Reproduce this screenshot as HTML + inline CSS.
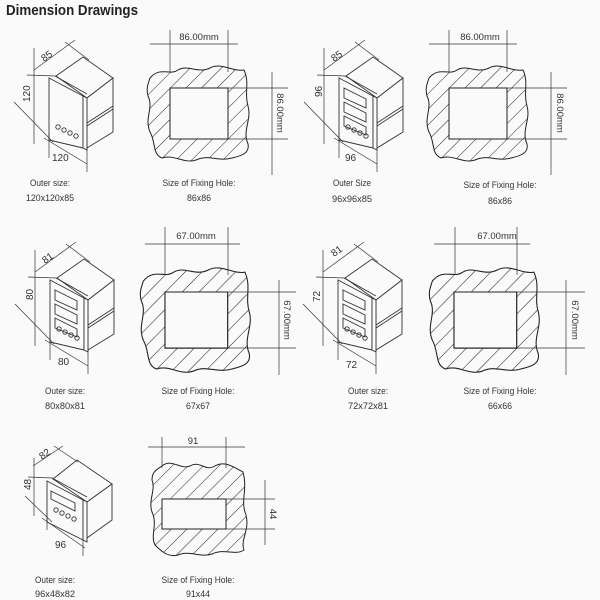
<!DOCTYPE html>
<html><head><meta charset="utf-8"><style>
html,body{margin:0;padding:0;background:#fafafa;}
svg{display:block;}
text{font-family:"Liberation Sans",sans-serif;fill:#333;}
</style></head><body>
<svg width="600" height="600" viewBox="0 0 600 600" xmlns="http://www.w3.org/2000/svg">
<defs>
<pattern id="h" patternUnits="userSpaceOnUse" width="11" height="11" patternTransform="rotate(45)">
<line x1="0" y1="0" x2="0" y2="11" stroke="#222" stroke-width="1"/>
</pattern>
<g id="hole">
<path fill-rule="evenodd" fill="url(#h)" stroke="#222" stroke-width="1" d="M -20,-10 C -10,-22 0,-12 8,-18 C 18,-24 28,-14 40,-20 C 52,-26 62,-16 74,-18 C 80,-5 74,5 78,18 C 82,32 72,42 78,56 C 80,66 70,68 62,70 C 48,74 38,66 26,72 C 14,76 4,66 -8,70 C -18,66 -14,54 -20,44 C -26,30 -16,20 -22,8 C -24,0 -22,-4 -20,-10 Z M0,0 L58,0 L58,51 L0,51 Z"/>
<path d="M0,0 L58,0 L58,51 L0,51 Z" fill="#fafafa" stroke="#222" stroke-width="1"/>
</g>
<g id="meter" fill="#fafafa" stroke="#333" stroke-width="0.9">
<polygon points="7,-2 34,-21 64,0 38,20"/>
<polygon points="38,20 64,0 64,54 38,70"/>
<line x1="38" y1="45" x2="64" y2="28"/>
<line x1="38" y1="48" x2="64" y2="31"/>
<polygon points="0,0 34,18 34,70 0,62"/>
<polygon points="34,18 38,20 38,72 34,70"/>
<line x1="6" y1="-2" x2="38" y2="16"/>
<circle cx="9" cy="49" r="2.2" fill="none"/><circle cx="15" cy="52" r="2.2" fill="none"/><circle cx="21" cy="55" r="2.2" fill="none"/><circle cx="27" cy="58" r="2.2" fill="none"/>
<line x1="-15" y1="-8" x2="26" y2="-38" stroke-width="0.7"/>
<line x1="-22" y1="-3" x2="6" y2="-2" stroke-width="0.7"/>
<line x1="16" y1="-36" x2="40" y2="-18" stroke-width="0.7"/>
<line x1="-15" y1="-30" x2="-15" y2="66" stroke-width="0.7"/>
<line x1="-35" y1="24" x2="4" y2="64" stroke-width="0.7"/>
<line x1="-5" y1="60" x2="38" y2="86" stroke-width="0.7"/>
<line x1="0" y1="55" x2="0" y2="80" stroke-width="0.7"/>
<line x1="38" y1="70" x2="38" y2="94" stroke-width="0.7"/>
</g>
<g id="disp" fill="none" stroke="#333" stroke-width="0.9">
<polygon points="5,10 27,21 27,30 5,20"/>
<polygon points="5,24 27,35 27,44 5,34"/>
<polygon points="5,38 27,49 27,57 5,48"/>
</g>
</defs>
<text x="6" y="15" font-size="15" font-weight="bold" style="fill:#222" textLength="132" lengthAdjust="spacingAndGlyphs">Dimension Drawings</text>

<!-- Row 1 -->
<use href="#meter" transform="translate(49,78)"/>
<text transform="translate(44,62) rotate(-35)" font-size="10">85</text>
<text transform="translate(30,102) rotate(-90)" font-size="10">120</text>
<text x="52" y="161" font-size="10">120</text>
<text x="50" y="186" font-size="9.5" text-anchor="middle" textLength="40" lengthAdjust="spacingAndGlyphs">Outer size:</text>
<text x="50" y="201" font-size="9.5" text-anchor="middle" textLength="48" lengthAdjust="spacingAndGlyphs">120x120x85</text>

<use href="#hole" transform="translate(170,88)"/>
<g stroke="#333" stroke-width="0.7">
<line x1="150" y1="44" x2="238" y2="44"/><line x1="170" y1="30" x2="170" y2="72"/><line x1="228" y1="30" x2="228" y2="72"/>
<line x1="228" y1="88" x2="288" y2="88"/><line x1="228" y1="139" x2="288" y2="139"/><line x1="272" y1="72" x2="272" y2="175"/>
</g>
<text x="199" y="40" font-size="9.5" text-anchor="middle">86.00mm</text>
<text transform="translate(277,113) rotate(90)" font-size="9.5" text-anchor="middle">86.00mm</text>
<text x="199" y="186" font-size="9.5" text-anchor="middle" textLength="73" lengthAdjust="spacingAndGlyphs">Size of Fixing Hole:</text>
<text x="199" y="201" font-size="9.5" text-anchor="middle" textLength="24" lengthAdjust="spacingAndGlyphs">86x86</text>

<use href="#meter" transform="translate(339,78)"/>
<use href="#disp" transform="translate(339,78)"/>
<text transform="translate(334,62) rotate(-35)" font-size="10">85</text>
<text transform="translate(322,97) rotate(-90)" font-size="10">96</text>
<text x="345" y="161" font-size="10">96</text>
<text x="352" y="186" font-size="9.5" text-anchor="middle" textLength="38" lengthAdjust="spacingAndGlyphs">Outer Size</text>
<text x="352" y="202" font-size="9.5" text-anchor="middle" textLength="40" lengthAdjust="spacingAndGlyphs">96x96x85</text>

<use href="#hole" transform="translate(449,88)"/>
<g stroke="#333" stroke-width="0.7">
<line x1="429" y1="44" x2="517" y2="44"/><line x1="449" y1="30" x2="449" y2="72"/><line x1="507" y1="30" x2="507" y2="72"/>
<line x1="507" y1="88" x2="567" y2="88"/><line x1="507" y1="139" x2="567" y2="139"/><line x1="551" y1="72" x2="551" y2="175"/>
</g>
<text x="480" y="40" font-size="9.5" text-anchor="middle">86.00mm</text>
<text transform="translate(557,113) rotate(90)" font-size="9.5" text-anchor="middle">86.00mm</text>
<text x="500" y="188" font-size="9.5" text-anchor="middle" textLength="73" lengthAdjust="spacingAndGlyphs">Size of Fixing Hole:</text>
<text x="500" y="204" font-size="9.5" text-anchor="middle" textLength="24" lengthAdjust="spacingAndGlyphs">86x86</text>

<!-- Row 2 -->
<use href="#meter" transform="translate(50,280)"/>
<use href="#disp" transform="translate(50,280)"/>
<text transform="translate(45,264) rotate(-35)" font-size="10">81</text>
<text transform="translate(33,300) rotate(-90)" font-size="10">80</text>
<text x="58" y="365" font-size="10">80</text>
<text x="65" y="394" font-size="9.5" text-anchor="middle" textLength="40" lengthAdjust="spacingAndGlyphs">Outer size:</text>
<text x="65" y="409" font-size="9.5" text-anchor="middle" textLength="40" lengthAdjust="spacingAndGlyphs">80x80x81</text>

<use href="#hole" transform="translate(165,292) scale(1.08,1.1)"/>
<g stroke="#333" stroke-width="0.7">
<line x1="145" y1="244" x2="240" y2="244"/><line x1="165" y1="227" x2="165" y2="275"/><line x1="228" y1="227" x2="228" y2="275"/>
<line x1="228" y1="292" x2="296" y2="292"/><line x1="228" y1="348" x2="296" y2="348"/><line x1="279" y1="280" x2="279" y2="375"/>
</g>
<text x="196" y="239" font-size="9.5" text-anchor="middle">67.00mm</text>
<text transform="translate(284,320) rotate(90)" font-size="9.5" text-anchor="middle">67.00mm</text>
<text x="198" y="394" font-size="9.5" text-anchor="middle" textLength="73" lengthAdjust="spacingAndGlyphs">Size of Fixing Hole:</text>
<text x="198" y="409" font-size="9.5" text-anchor="middle" textLength="24" lengthAdjust="spacingAndGlyphs">67x67</text>

<use href="#meter" transform="translate(338,280)"/>
<use href="#disp" transform="translate(338,280)"/>
<text transform="translate(334,257) rotate(-35)" font-size="10">81</text>
<text transform="translate(320,302) rotate(-90)" font-size="10">72</text>
<text x="346" y="368" font-size="10">72</text>
<text x="368" y="394" font-size="9.5" text-anchor="middle" textLength="40" lengthAdjust="spacingAndGlyphs">Outer size:</text>
<text x="368" y="409" font-size="9.5" text-anchor="middle" textLength="40" lengthAdjust="spacingAndGlyphs">72x72x81</text>

<use href="#hole" transform="translate(454,292) scale(1.08,1.1)"/>
<g stroke="#333" stroke-width="0.7">
<line x1="434" y1="244" x2="530" y2="244"/><line x1="455" y1="227" x2="455" y2="275"/><line x1="517" y1="227" x2="517" y2="275"/>
<line x1="517" y1="292" x2="585" y2="292"/><line x1="517" y1="348" x2="585" y2="348"/><line x1="566" y1="280" x2="566" y2="375"/>
</g>
<text x="497" y="239" font-size="9.5" text-anchor="middle">67.00mm</text>
<text transform="translate(572,320) rotate(90)" font-size="9.5" text-anchor="middle">67.00mm</text>
<text x="500" y="394" font-size="9.5" text-anchor="middle" textLength="73" lengthAdjust="spacingAndGlyphs">Size of Fixing Hole:</text>
<text x="500" y="409" font-size="9.5" text-anchor="middle" textLength="24" lengthAdjust="spacingAndGlyphs">66x66</text>

<!-- Row 3 -->
<g fill="#fafafa" stroke="#333" stroke-width="0.9">
<polygon points="53,479 77,460 112,484 87,502"/>
<polygon points="87,502 112,484 112,520 87,538"/>
<polygon points="47,481 83,500 83,540 47,522"/>
<polygon points="83,500 87,502 87,542 83,540"/>
<line x1="52" y1="478" x2="87" y2="497"/>
<polygon points="51,491 75,503 75,511 51,499" fill="none"/>
<circle cx="56" cy="510" r="2.2" fill="none"/><circle cx="62" cy="513" r="2.2" fill="none"/><circle cx="68" cy="516" r="2.2" fill="none"/><circle cx="74" cy="519" r="2.2" fill="none"/>
<g stroke-width="0.7">
<line x1="33" y1="466" x2="63" y2="446"/><line x1="54" y1="446" x2="78" y2="462"/><line x1="28" y1="477" x2="53" y2="478"/>
<line x1="34" y1="458" x2="34" y2="516"/><line x1="25" y1="496" x2="52" y2="522"/>
<line x1="42" y1="518" x2="85" y2="548"/><line x1="47" y1="515" x2="47" y2="530"/><line x1="83" y1="540" x2="83" y2="556"/>
</g>
</g>
<text transform="translate(42,460) rotate(-35)" font-size="10">82</text>
<text transform="translate(31,490) rotate(-90)" font-size="10">48</text>
<text x="55" y="548" font-size="10">96</text>
<text x="55" y="583" font-size="9.5" text-anchor="middle" textLength="40" lengthAdjust="spacingAndGlyphs">Outer size:</text>
<text x="55" y="597" font-size="9.5" text-anchor="middle" textLength="40" lengthAdjust="spacingAndGlyphs">96x48x82</text>

<path fill-rule="evenodd" fill="url(#h)" stroke="#222" stroke-width="1" d="M 162,466 C 172,458 180,470 190,466 C 200,460 205,472 215,466 C 225,460 235,468 243,472 C 248,490 240,500 246,515 C 250,530 240,540 244,550 C 235,556 225,548 212,554 C 200,558 190,550 178,555 C 168,558 160,550 155,545 C 150,535 158,525 152,512 C 148,500 156,490 152,480 C 152,472 156,470 162,466 Z M162,499 L226,499 L226,529 L162,529 Z"/>
<rect x="162" y="499" width="64" height="30" fill="#fafafa" stroke="#222"/>
<g stroke="#333" stroke-width="0.7">
<line x1="148" y1="447" x2="245" y2="447"/><line x1="162" y1="437" x2="162" y2="468"/><line x1="226" y1="437" x2="226" y2="468"/>
<line x1="226" y1="499" x2="275" y2="499"/><line x1="226" y1="529" x2="275" y2="529"/><line x1="265" y1="480" x2="265" y2="545"/>
</g>
<text x="193" y="444" font-size="9.5" text-anchor="middle">91</text>
<text transform="translate(270,514) rotate(90)" font-size="9.5" text-anchor="middle">44</text>
<text x="198" y="583" font-size="9.5" text-anchor="middle" textLength="73" lengthAdjust="spacingAndGlyphs">Size of Fixing Hole:</text>
<text x="198" y="597" font-size="9.5" text-anchor="middle" textLength="24" lengthAdjust="spacingAndGlyphs">91x44</text>
</svg>
</body></html>
